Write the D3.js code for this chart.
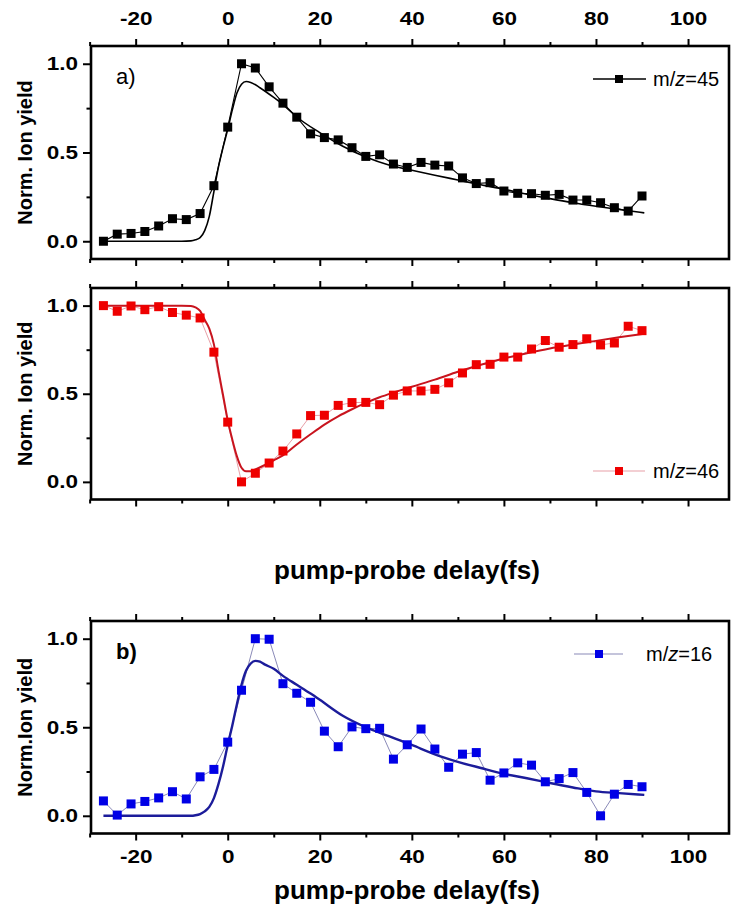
<!DOCTYPE html>
<html><head><meta charset="utf-8">
<script src="https://cdn.jsdelivr.net/npm/d3@7/dist/d3.min.js"></script>
<style>body{margin:0;background:#fff}svg{display:block}</style>
</head><body><svg id="c" width="732" height="909"></svg>
<script>
// ---- data ----
const delays = [-27,-24,-21,-18,-15,-12,-9,-6,-3,0,3,6,9,12,15,18,21,24,27,30,33,36,39,42,45,48,51,54,57,60,63,66,69,72,75,78,81,84,87,90];
const yield45 = [0.00,0.04,0.044,0.055,0.086,0.127,0.122,0.156,0.313,0.643,1.00,0.976,0.87,0.778,0.699,0.605,0.584,0.571,0.527,0.478,0.487,0.435,0.416,0.444,0.429,0.424,0.357,0.325,0.33,0.283,0.27,0.268,0.259,0.264,0.232,0.232,0.217,0.189,0.17,0.255];
const yield46 = [1.00,0.968,0.998,0.977,0.994,0.961,0.946,0.93,0.736,0.339,0.00,0.049,0.107,0.175,0.272,0.376,0.378,0.434,0.45,0.451,0.438,0.492,0.516,0.516,0.525,0.562,0.618,0.665,0.667,0.708,0.708,0.754,0.802,0.764,0.779,0.812,0.777,0.788,0.883,0.858];
const yield16 = [0.084,0.004,0.067,0.081,0.101,0.136,0.095,0.22,0.262,0.416,0.709,1.00,0.997,0.746,0.692,0.641,0.478,0.39,0.502,0.492,0.494,0.32,0.401,0.49,0.377,0.274,0.348,0.357,0.201,0.242,0.299,0.286,0.192,0.21,0.244,0.132,0.0,0.122,0.177,0.164];

const fitDelays45 = [-27,-10,-8,-7,-6,-5,-4,-3,-2,-1,0,1,2,3,4,5,7,10,12,15,20,25,30,35,40,45,50,55,60,65,70,75,80,85,90.5];
const fit45 = [0,0,0.002,0.008,0.02,0.06,0.14,0.28,0.42,0.53,0.63,0.74,0.835,0.885,0.90,0.895,0.865,0.81,0.77,0.70,0.612,0.535,0.475,0.43,0.40,0.372,0.345,0.318,0.293,0.265,0.24,0.217,0.197,0.179,0.16];
const fitDelays46 = [-27,-10,-8,-7,-6,-5,-4,-3,-2,-1,0,1,2,3,4,5,6,8,10,12,15,18,21,24,27,30,33,36,40,45,50,55,60,65,70,75,80,85,90.5];
const fit46 = [1.0,1.0,0.998,0.99,0.97,0.92,0.87,0.78,0.63,0.49,0.35,0.24,0.145,0.08,0.06,0.06,0.07,0.095,0.122,0.15,0.212,0.27,0.325,0.372,0.412,0.448,0.48,0.507,0.54,0.58,0.625,0.665,0.70,0.73,0.757,0.779,0.80,0.82,0.84];
const fitDelays16 = [-27,-8,-7,-6,-5,-4,-3,-2,-1,0,1,2,3,4,5,6,7,8,10,12,15,18,20,25,30,35,40,45,50,55,60,65,70,75,80,85,90.5];
const fit16 = [0,0,0.003,0.01,0.025,0.05,0.10,0.18,0.28,0.40,0.51,0.63,0.74,0.82,0.86,0.875,0.87,0.855,0.83,0.79,0.74,0.69,0.655,0.565,0.50,0.45,0.40,0.347,0.305,0.27,0.237,0.212,0.185,0.16,0.138,0.128,0.118];

const xMajorTicks = [-20,0,20,40,60,80,100];
const xMinorTicks = [-30,-10,10,30,50,70,90];
const yMajorTicks = [0.0,0.5,1.0];
const yMinorTicks = [0.25,0.75];
const seriesNames = ["m/z=45","m/z=46","m/z=16"];
const panelLetters = ["a)","","b)"];
const yTitles = ["Norm. Ion yield","Norm. Ion yield","Norm.Ion yield"];
const xTitle = "pump-probe delay(fs)";

// ---- drawing ----
const svg = d3.select("#c");
const FONT = "'Liberation Sans', Arial, Helvetica, sans-serif";
const L = 91, R = 729;
const SX = 1.25; // horizontal stretch of tick labels seen in the reference
const x = d3.scaleLinear().domain([-29.7, 108.9]).range([L, R]);
const intFmt = d => String(d);
const decFmt = d => d.toFixed(1);

panelsDef();

function panelsDef() {
const panels = [
  {top:46, bottom:259, ys:yield45, fx:fitDelays45, fy:fit45, mark:"#000000", link:"#000000", linkW:1.1, fit:"#000000", fitW:1.6,
   topLabels:true, bottomLabels:false, legY:79, legX1:593, legX2:646, legM:619, legT:653, letterBold:false},
  {top:288, bottom:499.5, ys:yield46, fx:fitDelays46, fy:fit46, mark:"#ee0000", link:"#e8a0a8", linkW:1, fit:"#c8141e", fitW:2,
   topLabels:false, bottomLabels:false, legY:471, legX1:593, legX2:645, legM:619, legT:653, letterBold:false},
  {top:621, bottom:833.5, ys:yield16, fx:fitDelays16, fy:fit16, mark:"#0000e6", link:"#8a8ab8", linkW:1, fit:"#1c1c9a", fitW:2.4,
   topLabels:false, bottomLabels:true, legY:654, legX1:574, legX2:623, legM:599, legT:646, letterBold:true}
];

panels.forEach((p, i) => {
  const y = d3.scaleLinear().domain([-0.1, 1.1]).range([p.bottom, p.top]);
  const g = svg.append("g");

  const styleAxis = (sel) => {
    sel.select(".domain").remove();
    sel.selectAll("line").attr("stroke", "#000").attr("stroke-width", 2);
    sel.selectAll("text").attr("font-family", FONT).attr("font-weight", "bold").attr("font-size", 18).attr("fill", "#000")
      .attr("transform", `scale(${SX},1)`);
  };
  const topAx = d3.axisTop(x).tickValues(xMajorTicks).tickSize(7).tickPadding(14)
      .tickFormat(p.topLabels ? intFmt : () => "");
  g.append("g").attr("transform", `translate(0,${p.top})`).call(topAx).call(styleAxis);
  g.append("g").attr("transform", `translate(0,${p.top})`)
    .call(d3.axisTop(x).tickValues(xMinorTicks).tickSize(4).tickFormat(() => "")).call(styleAxis);
  const botAx = d3.axisBottom(x).tickValues(xMajorTicks).tickSize(7).tickPadding(10)
      .tickFormat(p.bottomLabels ? intFmt : () => "");
  g.append("g").attr("transform", `translate(0,${p.bottom})`).call(botAx).call(styleAxis);
  g.append("g").attr("transform", `translate(0,${p.bottom})`)
    .call(d3.axisBottom(x).tickValues(xMinorTicks).tickSize(4).tickFormat(() => "")).call(styleAxis);
  const yAx = g.append("g").attr("transform", `translate(${L},0)`)
    .call(d3.axisLeft(y).tickValues(yMajorTicks).tickSize(8).tickPadding(5).tickFormat(decFmt)).call(styleAxis);
  yAx.selectAll("text").attr("x", -13 / SX);
  g.append("g").attr("transform", `translate(${L},0)`)
    .call(d3.axisLeft(y).tickValues(yMinorTicks).tickSize(4.5).tickFormat(() => "")).call(styleAxis);

  // frame
  g.append("rect").attr("x", L).attr("y", p.top).attr("width", R - L).attr("height", p.bottom - p.top)
    .attr("fill", "none").attr("stroke", "#000").attr("stroke-width", 2.6);

  // connecting line
  const pts = delays.map((d, k) => [d, p.ys[k]]);
  g.append("path").datum(pts)
    .attr("d", d3.line().x(d => x(d[0])).y(d => y(d[1])))
    .attr("fill", "none").attr("stroke", p.link).attr("stroke-width", p.linkW);

  // fit
  const fpts = p.fx.map((d, k) => [d, p.fy[k]]);
  g.append("path").datum(fpts)
    .attr("d", d3.line().curve(d3.curveMonotoneX).x(d => x(d[0])).y(d => y(d[1])))
    .attr("fill", "none").attr("stroke", p.fit).attr("stroke-width", p.fitW);

  // markers
  const ms = 9;
  g.selectAll("rect.pt").data(pts).join("rect").attr("class", "pt")
    .attr("x", d => x(d[0]) - ms / 2).attr("y", d => y(d[1]) - ms / 2)
    .attr("width", ms).attr("height", ms).attr("fill", p.mark);

  // legend
  g.append("line").attr("x1", p.legX1).attr("x2", p.legX2).attr("y1", p.legY).attr("y2", p.legY)
    .attr("stroke", p.link).attr("stroke-width", i === 0 ? 1.6 : 1.2);
  g.append("rect").attr("x", p.legM - 4).attr("y", p.legY - 4).attr("width", 8).attr("height", 8).attr("fill", p.mark);
  const parts = seriesNames[i].split("z");
  const lt = g.append("text").attr("x", p.legT).attr("y", p.legY + 7)
    .attr("font-family", FONT).attr("font-size", 20).attr("fill", "#000");
  lt.append("tspan").text(parts[0]);
  lt.append("tspan").attr("font-style", "italic").text("z");
  lt.append("tspan").text(parts[1]);

  // panel letter
  if (panelLetters[i]) {
    g.append("text").attr("x", 116).attr("y", p.top + 38)
      .attr("font-family", FONT).attr("font-size", 22).attr("font-weight", p.letterBold ? "bold" : "normal")
      .text(panelLetters[i]);
  }

  // y title
  const cy = (y(1.0) + y(0)) / 2;
  g.append("text").attr("transform", `translate(32,${cy}) rotate(-90)`)
    .attr("text-anchor", "middle").attr("font-family", FONT).attr("font-weight", "bold").attr("font-size", 20)
    .text(yTitles[i]);
});
}

// x titles
[579, 899].forEach(yy => {
  svg.append("text").attr("x", 407).attr("y", yy).attr("text-anchor", "middle")
    .attr("font-family", FONT).attr("font-weight", "bold").attr("font-size", 26)
    .text(xTitle);
});
</script></body></html>
